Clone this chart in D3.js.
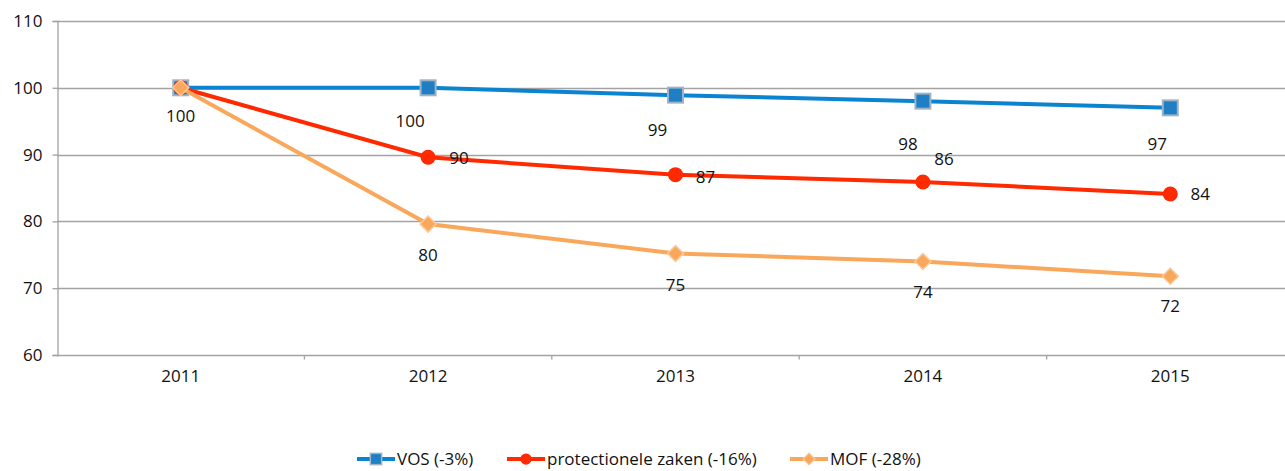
<!DOCTYPE html>
<html>
<head>
<meta charset="utf-8">
<script src="https://cdn.jsdelivr.net/npm/d3@7"></script>
<style>
  html, body { margin: 0; padding: 0; background: #fff; }
  svg text { font-family: "Open Sans", "Lato", sans-serif; fill: #111; }
</style>
</head>
<body>
<div id="chart"></div>
<script>
(function() {
    /* data */
    const years = ["2011", "2012", "2013", "2014", "2015"];
    const yTicks = [60, 70, 80, 90, 100, 110];

    const vos = [100, 100, 98.9, 98.0, 97.0];
    const protectioneel = [100, 89.6, 87.0, 85.9, 84.1];
    const mof = [100, 79.6, 75.2, 74.0, 71.8];

    const vosLabels = ["100", "100", "99", "98", "97"];
    const protLabels = ["", "90", "87", "86", "84"];
    const mofLabels = ["", "80", "75", "74", "72"];

    const seriesNames = ["VOS (-3%)", "protectionele zaken (-16%)", "MOF (-28%)"];

    /* layout */
    const width = 1285, height = 471;
    const left = 57, right = 1294, top = 21, bottom = 355;

    // label offsets (Excel put them in odd places)
    const vosOffsets = [[0, 28], [-18, 33], [-18, 35], [-15, 43], [-13, 36]];
    const protOffsets = [[0, 0], [31, 1], [30, 2], [21, -23], [30, 0]];
    const mofOffsets = [[0, 31], [0, 31], [0, 32], [0, 31], [0, 30]];

    const series = [
        { name: seriesNames[0], values: vos, labels: vosLabels, offsets: vosOffsets, color: "#0a84d0", marker: "square" },
        { name: seriesNames[1], values: protectioneel, labels: protLabels, offsets: protOffsets, color: "#ff2a00", marker: "circle" },
        { name: seriesNames[2], values: mof, labels: mofLabels, offsets: mofOffsets, color: "#f9a75a", marker: "diamond" }
    ];

    const svg = d3.select("#chart").append("svg")
        .attr("width", width).attr("height", height);

    const x = d3.scaleBand().domain(years).range([left, right]);
    const y = d3.scaleLinear().domain([60, 110]).range([bottom, top]);
    const cx = d => x(d) + x.bandwidth() / 2;

    // gridlines
    svg.append("g").selectAll("line")
        .data(yTicks.filter(t => t > 60))
        .join("line")
        .attr("x1", left).attr("x2", width)
        .attr("y1", d => Math.round(y(d)) + 0.5).attr("y2", d => Math.round(y(d)) + 0.5)
        .attr("stroke", "#a3a3a3").attr("stroke-width", 1.3);

    // y axis
    const yAxis = svg.append("g")
        .attr("transform", `translate(${left + 0.5},0)`)
        .call(d3.axisLeft(y).tickValues(yTicks).tickSize(5).tickPadding(10));
    yAxis.select(".domain").attr("stroke", "#a3a3a3").attr("stroke-width", 1.3);
    yAxis.selectAll(".tick line").attr("stroke", "#a3a3a3").attr("stroke-width", 1.3);
    yAxis.selectAll("text").attr("font-size", 17).style("fill", "#111");

    // x axis
    const xAxis = svg.append("g")
        .attr("transform", `translate(0,${Math.round(bottom) + 0.5})`)
        .call(d3.axisBottom(x).tickSize(0).tickPadding(14));
    xAxis.select(".domain").remove();
    xAxis.append("line")
        .attr("x1", left).attr("x2", width)
        .attr("stroke", "#a3a3a3").attr("stroke-width", 1.3);
    xAxis.selectAll(".tick text").attr("font-size", 17).style("fill", "#111");
    xAxis.selectAll(".bound")
        .data(years.slice(1))
        .join("line")
        .attr("x1", d => x(d)).attr("x2", d => x(d))
        .attr("y1", 0).attr("y2", 4)
        .attr("stroke", "#a3a3a3").attr("stroke-width", 1.3);

    function drawMarker(sel, type, color) {
        if (type === "square") {
            sel.append("rect")
                .attr("x", -7.5).attr("y", -7.5).attr("width", 15).attr("height", 15)
                .attr("fill", "#1f7fc4").attr("stroke", "#9fb2c6").attr("stroke-width", 2);
        } else if (type === "circle") {
            sel.append("circle").attr("r", 7.5).attr("fill", color);
        } else {
            sel.append("path")
                .attr("d", "M0,-8L8,0L0,8L-8,0Z")
                .attr("fill", color).attr("stroke", "#fbc99a").attr("stroke-width", 1.5);
        }
    }

    const line = d3.line().x((d, i) => cx(years[i])).y(d => y(d));

    series.forEach(s => {
        const g = svg.append("g");
        g.append("path")
            .datum(s.values)
            .attr("d", line)
            .attr("fill", "none")
            .attr("stroke", s.color)
            .attr("stroke-width", 4);
        g.selectAll(".m")
            .data(s.values)
            .join("g")
            .attr("transform", (d, i) => `translate(${cx(years[i])},${y(d)})`)
            .each(function() { drawMarker(d3.select(this), s.marker, s.color); });
    });

    // data labels
    series.forEach(s => {
        const pts = s.values.map((v, i) => ({ v, i, label: s.labels[i], off: s.offsets[i] }))
            .filter(p => p.label !== "");
        svg.append("g").selectAll("text")
            .data(pts)
            .join("text")
            .attr("x", p => cx(years[p.i]) + p.off[0])
            .attr("y", p => y(p.v) + p.off[1])
            .attr("dy", "0.35em")
            .attr("text-anchor", "middle")
            .attr("font-size", 17)
            .text(p => p.label);
    });

    // legend
    const legendX = [357, 507, 790];
    const legend = svg.append("g").attr("transform", "translate(0,459)");
    series.forEach((s, i) => {
        const lg = legend.append("g").attr("transform", `translate(${legendX[i]},0)`);
        lg.append("line").attr("x1", 0).attr("x2", 38)
            .attr("stroke", s.color).attr("stroke-width", 4);
        const m = lg.append("g").attr("transform", "translate(19,0) scale(0.75)");
        drawMarker(m, s.marker, s.color);
        lg.append("text").attr("x", 40).attr("dy", "0.35em")
            .attr("font-size", 17).text(s.name);
    });
})();
</script>
</body>
</html>
